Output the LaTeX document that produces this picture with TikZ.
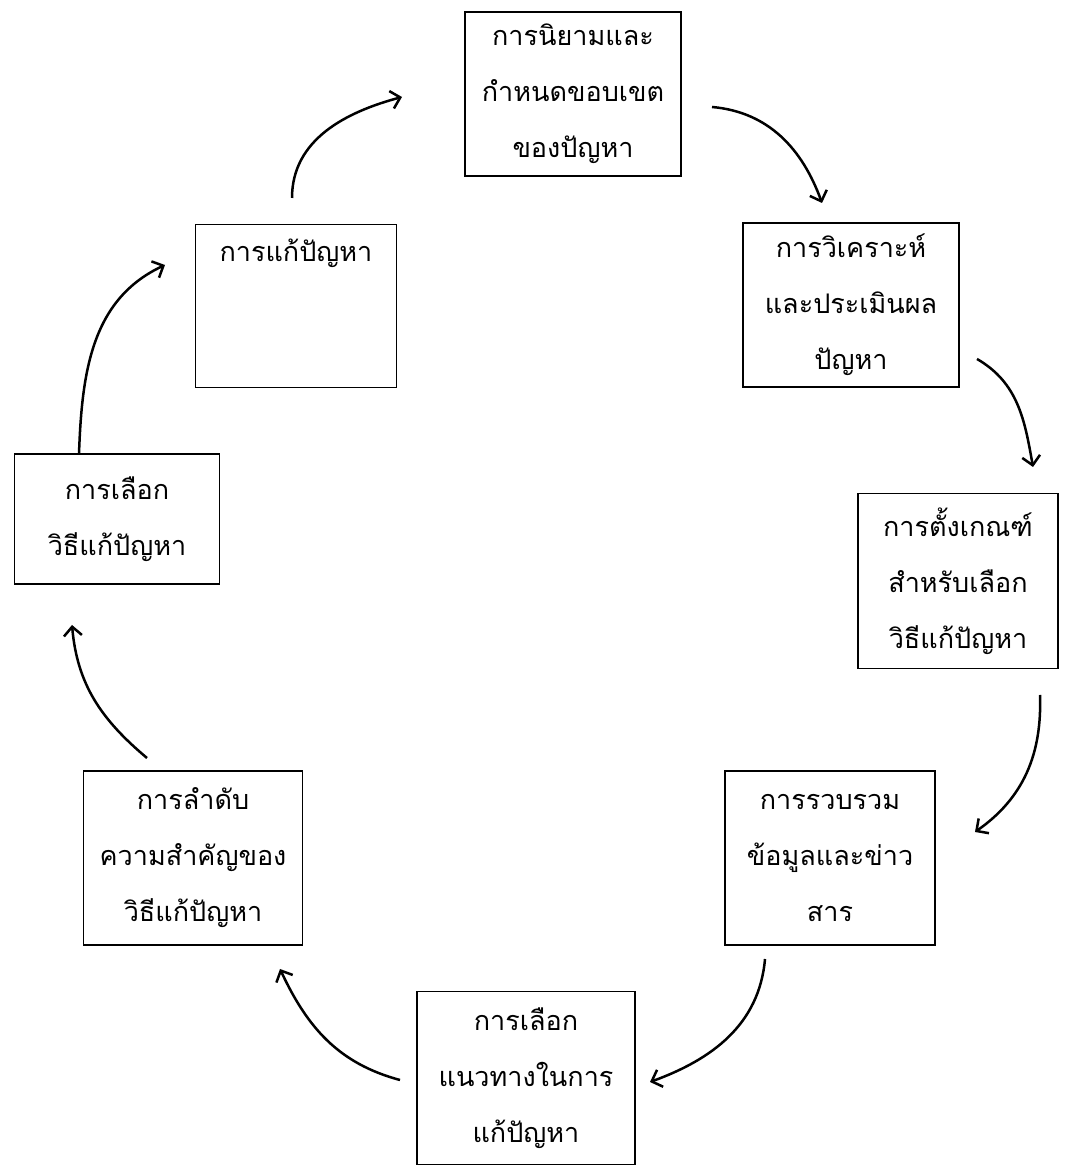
\documentclass[tikz,border=0pt]{standalone}
\usepackage{fontspec}
\newfontfamily\thaifont[Script=Thai]{Loma}
\usetikzlibrary{arrows.meta}

\begin{document}
\begin{tikzpicture}[x=1pt,y=1pt]
  \tikzstyle{box}=[draw,line width=1.9pt,align=center,inner sep=0pt,font=\thaifont\fontsize{27}{56}\selectfont]
  \tikzstyle{flow}=[line width=2.5pt,-{Straight Barb[length=9pt,width=18pt,line width=2.5pt]}]
  \useasboundingbox (0,0) rectangle (1067,1169);
  % the eight steps, clockwise from the top
  \node (define) [box,minimum width=216pt,minimum height=164pt] at (573,1075) {การนิยามและ\\กำหนดขอบเขต\\ของปัญหา};
  \node (analyse) [box,minimum width=216pt,minimum height=164pt] at (851,864) {การวิเคราะห์\\และประเมินผล\\ปัญหา};
  \node (criteria) [box,minimum width=200pt,minimum height=175pt] at (958,588) {การตั้งเกณฑ์\\สำหรับเลือก\\วิธีแก้ปัญหา};
  \node (collect) [box,minimum width=210pt,minimum height=174pt] at (830,311) {การรวบรวม\\ข้อมูลและข่าว\\สาร};
  \node (approach) [box,minimum width=218pt,minimum height=173pt] at (526,91) {การเลือก\\แนวทางในการ\\แก้ปัญหา};
  \node (rank) [box,minimum width=219pt,minimum height=174pt] at (193,311) {การลำดับ\\ความสำคัญของ\\วิธีแก้ปัญหา};
  \node (choose) [box,minimum width=205pt,minimum height=130pt] at (117,650) {การเลือก\\วิธีแก้ปัญหา};
  \node (solve) [box,minimum width=201pt,minimum height=163pt] at (296,863) {การแก้ปัญหา\\~\\~};
  % arrow ends
  \coordinate (t1) at (712,1062); \coordinate (h1) at (822,966);
  \coordinate (t2) at (977,810);  \coordinate (h2) at (1033,702);
  \coordinate (t3) at (1040,474); \coordinate (h3) at (975,337);
  \coordinate (t4) at (765,210);  \coordinate (h4) at (650,87);
  \coordinate (t5) at (400,89);   \coordinate (h5) at (280,200);
  \coordinate (t6) at (147,411);  \coordinate (h6) at (72,544);
  \coordinate (t7) at (79,715);   \coordinate (h7) at (165,904);
  \coordinate (t8) at (292,971);  \coordinate (h8) at (402,1072);
  \draw [flow] (t1) to[out=-5,in=110] (h1);
  \draw [flow] (t2) to[out=-30,in=100] (h2);
  \draw [flow] (t3) to[out=-88,in=35] (h3);
  \draw [flow] (t4) to[out=-95,in=20] (h4);
  \draw [flow] (t5) to[out=165,in=-65] (h5);
  \draw [flow] (t6) to[out=140,in=-85] (h6);
  \draw [flow] (t7) to[out=88,in=-155] (h7);
  \draw [flow] (t8) to[out=90,in=195] (h8);
\end{tikzpicture}
\end{document}
